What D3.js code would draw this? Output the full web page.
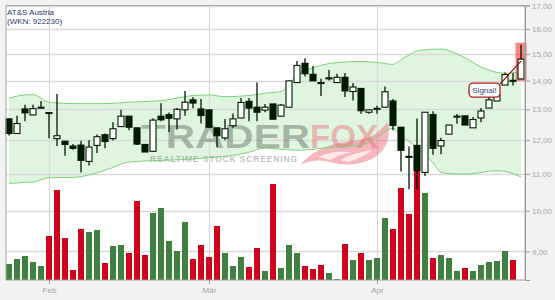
<!DOCTYPE html>
<html>
<head>
<meta charset="utf-8">
<script src="https://cdn.jsdelivr.net/npm/d3@7"></script>
<style>
  html, body { margin: 0; padding: 0; background: #f2f2f2; }
  svg { display: block; font-family: "Liberation Sans", Arial, sans-serif; }
</style>
</head>
<body>
<svg id="chart" width="555" height="300"></svg>
<script>
// daily candles, index 0 = last days of January
const opens  = [12.68,12.21,13.01,12.81,13.07,12.89,12.05,11.97,11.82,11.85,11.36,11.84,12.17,12.05,12.43,12.77,12.39,11.87,11.66,12.77,12.82,12.68,12.98,13.32,13.01,12.98,12.39,12.07,12.46,12.71,13.27,13.07,12.97,13.18,12.77,13.07,13.93,14.64,14.23,13.93,14.09,13.93,14.12,13.61,13.72,12.90,13.02,13.07,13.28,12.41,11.51,11.84,11.04,12.82,11.82,12.19,12.76,12.78,12.39,12.71,13.04,13.28,13.84,14.01,14.06];
const highs  = [12.70,12.78,13.15,13.15,13.28,12.89,13.52,11.97,11.88,11.98,12.00,12.18,12.21,12.57,12.98,12.77,12.39,11.87,12.70,13.20,12.89,13.04,13.63,13.42,13.35,12.98,12.39,12.68,12.86,13.38,13.38,13.93,13.18,13.18,13.18,14.00,14.73,14.83,14.54,14.07,14.39,14.25,14.28,13.91,13.72,12.98,13.12,13.79,13.35,12.41,11.81,12.69,12.90,12.93,12.08,12.48,12.84,12.78,12.74,13.04,13.42,13.50,14.30,14.28,15.36];
const lows   = [12.15,12.21,12.60,12.81,13.03,12.06,11.82,11.53,11.71,11.04,11.24,11.61,11.75,11.99,12.43,12.31,11.85,11.64,11.66,12.60,12.26,12.34,12.78,13.03,12.53,12.40,11.78,12.00,12.39,12.71,12.60,12.60,12.90,12.67,12.77,13.07,13.93,14.15,13.99,13.45,14.00,13.93,13.42,13.30,12.85,12.85,12.85,13.07,12.31,11.07,10.57,10.58,10.94,11.56,11.57,12.19,12.52,12.48,12.39,12.57,13.04,13.28,13.84,13.82,14.06];
const closes = [12.21,12.53,12.88,13.02,13.04,12.88,12.14,11.87,11.75,11.39,11.79,12.11,11.96,12.36,12.77,12.41,11.88,11.64,12.64,12.65,12.70,13.00,13.24,13.21,12.79,12.41,12.14,12.36,12.68,13.23,13.04,12.90,13.07,12.67,13.14,13.99,14.56,14.25,13.99,13.91,14.10,14.12,13.63,13.77,12.95,12.98,13.03,13.60,12.47,11.69,11.48,11.09,12.90,11.75,11.99,12.48,12.77,12.48,12.66,12.94,13.32,13.49,14.22,14.00,14.80];
const prevClose = 12.10;

// volume in thousand shares (today has none yet)
const volumes = [80,105,120,90,70,220,450,210,50,255,240,250,85,170,175,135,395,125,335,360,195,145,290,105,175,115,270,135,70,115,65,160,45,480,60,175,135,70,55,75,35,5,180,100,135,100,110,310,255,460,330,560,435,110,125,110,45,60,45,75,90,95,145,100];

// bollinger bands read at these candle indices
const bandIdx   = [0,2,3,5,8,12,15,19,23,25,27,30,32,34,35,36,38,41,44,46,48,49,50,51,52,53,54,55,57,59,61,62,64];
const bandUpper = [13.38,13.49,13.50,13.24,13.19,13.19,13.24,13.29,13.47,13.49,13.43,13.47,13.55,13.61,13.88,14.20,14.47,14.67,14.71,14.67,14.60,14.77,14.96,15.12,15.16,15.18,15.19,15.12,14.85,14.50,14.30,14.27,14.33];
const bandLower = [10.73,10.76,10.77,10.89,10.90,11.10,11.34,11.39,11.43,11.47,11.51,11.63,11.76,11.72,11.71,11.69,11.72,11.80,11.85,12.08,12.38,12.11,11.97,11.76,11.54,11.32,11.04,11.01,10.99,11.04,11.09,11.07,10.91];

const priceTicks = [9, 10, 11, 12, 13, 14, 15, 16, 17];
const monthIdx = [5, 25, 46];
const monthLabels = ["Feb", "Mär", "Apr"];

const titleLines = ["AT&S Austria", "(WKN: 922230)"];
const signalText = "Signal!";

const svg = d3.select("#chart");
const plotLeft = 6, plotRight = 525, plotTop = 5.5, plotBottom = 280;

const xScale = d3.scaleLinear().domain([0, 64]).range([9, 521]);
const yScale = d3.scaleLog().domain([8.36, 17]).range([plotBottom, plotTop]);
const yVol = d3.scaleLinear().domain([0, 600]).range([plotBottom, 160]);

// plot background
svg.append("rect")
  .attr("x", plotLeft).attr("y", plotTop)
  .attr("width", plotRight - plotLeft).attr("height", plotBottom - plotTop)
  .attr("fill", "#ffffff");

// band fill
const bandData = bandIdx.map((d, i) => ({ i: d, up: bandUpper[i], lo: bandLower[i] }));
svg.append("path")
  .datum(bandData)
  .attr("fill", "#dff5df")
  .attr("d", d3.area()
    .x(d => xScale(d.i))
    .y0(d => yScale(d.lo))
    .y1(d => yScale(d.up))
    .curve(d3.curveMonotoneX));

// grid
svg.append("g").selectAll("line")
  .data(priceTicks)
  .join("line")
  .attr("x1", plotLeft).attr("x2", plotRight)
  .attr("y1", d => Math.round(yScale(d)) + 0.5)
  .attr("y2", d => Math.round(yScale(d)) + 0.5)
  .attr("stroke", "#d9d9d9")
  .attr("stroke-width", 1.3);

svg.append("g").selectAll("line")
  .data(monthIdx)
  .join("line")
  .attr("x1", d => xScale(d) + 0.5).attr("x2", d => xScale(d) + 0.5)
  .attr("y1", plotTop).attr("y2", plotBottom)
  .attr("stroke", "#d9d9d9")
  .attr("stroke-width", 1.3);

// watermark
const wm = svg.append("g");
wm.append("path")
  .attr("d", "M300,165 Q316,146 345,142 Q368,140 378,132 L388,122 Q393,147 372,159 Q350,169 326,161 Q312,159 300,165 Z")
  .attr("fill", "rgba(238,110,125,0.5)");
wm.append("path")
  .attr("d", "M318,157 Q335,150 352,152 Q340,154 330,160 Z M340,160 Q356,152 372,150 Q362,158 348,162 Z")
  .attr("fill", "rgba(255,255,255,0.7)");
wm.append("text")
  .attr("x", 141).attr("y", 148)
  .attr("font-size", 34).attr("font-weight", "bold")
  .attr("textLength", 169).attr("lengthAdjust", "spacingAndGlyphs")
  .attr("fill", "rgba(80,92,80,0.42)")
  .text("TRADER");
wm.append("text")
  .attr("x", 310).attr("y", 148)
  .attr("font-size", 34).attr("font-weight", "bold")
  .attr("textLength", 68).attr("lengthAdjust", "spacingAndGlyphs")
  .attr("fill", "rgba(235,95,105,0.42)")
  .text("FOX");
wm.append("text")
  .attr("x", 150).attr("y", 161.5)
  .attr("font-size", 8.5).attr("font-weight", "bold")
  .attr("textLength", 147).attr("lengthAdjust", "spacing")
  .attr("fill", "rgba(95,105,95,0.42)")
  .text("REALTIME STOCK SCREENING");

// band lines
["up", "lo"].forEach(k => {
  svg.append("path")
    .datum(bandData)
    .attr("fill", "none")
    .attr("stroke", "#7fd27f")
    .attr("stroke-width", 1)
    .attr("d", d3.line()
      .x(d => xScale(d.i))
      .y(d => yScale(d[k]))
      .curve(d3.curveMonotoneX));
});

// volume
svg.append("g").selectAll("rect")
  .data(volumes)
  .join("rect")
  .attr("x", (d, i) => xScale(i) - 3)
  .attr("width", 6)
  .attr("y", d => yVol(d))
  .attr("height", d => plotBottom - yVol(d))
  .attr("fill", (d, i) => closes[i] >= (i === 0 ? prevClose : closes[i - 1]) ? "#408040" : "#d0021b");

// highlight of the last candle
const last = closes.length - 1;
svg.append("rect")
  .attr("x", xScale(last) - 5.5)
  .attr("width", 11)
  .attr("y", yScale(highs[last]) - 2)
  .attr("height", yScale(lows[last]) - yScale(highs[last]) + 4)
  .attr("fill", "rgba(245,80,80,0.7)");

// candles
const candles = svg.append("g").selectAll("g")
  .data(closes)
  .join("g");

candles.append("line")
  .attr("x1", (d, i) => xScale(i)).attr("x2", (d, i) => xScale(i))
  .attr("y1", (d, i) => yScale(highs[i]))
  .attr("y2", (d, i) => yScale(lows[i]))
  .attr("stroke", "#011a01")
  .attr("stroke-width", 1.3);

candles.append("rect")
  .attr("x", (d, i) => xScale(i) - 3)
  .attr("width", 6)
  .attr("y", (d, i) => yScale(Math.max(opens[i], d)))
  .attr("height", (d, i) => Math.max(1, Math.abs(yScale(opens[i]) - yScale(d))))
  .attr("fill", (d, i) => d >= opens[i] ? "#ffffff" : "#011a01")
  .attr("stroke", "#011a01")
  .attr("stroke-width", 1.1);

// signal annotation
const sx = xScale(last), sy = yScale(closes[last]);
svg.append("line")
  .attr("x1", sx - 21).attr("y1", sy + 25)
  .attr("x2", sx).attr("y2", sy + 2)
  .attr("stroke", "#a01010")
  .attr("stroke-width", 1.2);
svg.append("rect")
  .attr("x", sx - 52).attr("y", sy + 24)
  .attr("width", 31).attr("height", 14)
  .attr("rx", 4)
  .attr("fill", "#ffffff")
  .attr("stroke", "#b01c1c")
  .attr("stroke-width", 1.3);
svg.append("text")
  .attr("x", sx - 36.5).attr("y", sy + 34)
  .attr("text-anchor", "middle")
  .attr("font-size", 8)
  .attr("fill", "#34457a")
  .text(signalText);

// frame
svg.append("path")
  .attr("d", `M${plotRight},${plotBottom} V${plotTop} H${plotLeft} V${plotBottom}`)
  .attr("fill", "none")
  .attr("stroke", "#a8a8a8")
  .attr("stroke-width", 1);

// axes
const yAxis = d3.axisRight(yScale)
  .tickValues(priceTicks)
  .tickSize(5)
  .tickPadding(2)
  .tickFormat(d => d3.format(".2f")(d).replace(".", ","));
const gy = svg.append("g").attr("transform", `translate(${plotRight},0)`).call(yAxis);
gy.select(".domain").attr("stroke", "#9a9a9a");

const xAxis = d3.axisBottom(xScale)
  .tickValues(monthIdx)
  .tickSize(4)
  .tickPadding(3)
  .tickFormat((d, i) => monthLabels[i]);
const gx = svg.append("g").attr("transform", `translate(0,${plotBottom})`).call(xAxis);
gx.select(".domain").remove();
gx.append("line").attr("x1", plotLeft).attr("x2", plotRight).attr("stroke", "#9a9a9a");

[gx, gy].forEach(g => {
  g.selectAll(".tick line").attr("stroke", "#9a9a9a");
  g.selectAll(".tick text")
    .attr("fill", "#a6a6a6")
    .attr("font-size", 8)
    .attr("font-family", "Liberation Sans, Arial, sans-serif");
});

// title
svg.append("text")
  .attr("x", 7).attr("y", 15)
  .attr("font-size", 8)
  .attr("fill", "#26386a")
  .selectAll("tspan")
  .data(titleLines)
  .join("tspan")
  .attr("x", 7)
  .attr("dy", (d, i) => i === 0 ? 0 : 9)
  .text(d => d);
</script>
</body>
</html>
